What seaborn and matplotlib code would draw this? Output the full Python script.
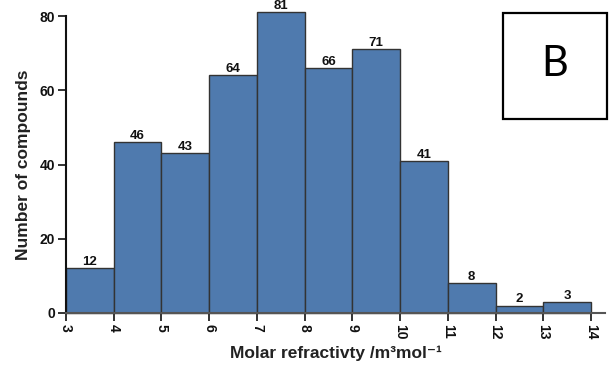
import numpy as np
import pandas as pd
import matplotlib
matplotlib.use("Agg")
import matplotlib.pyplot as plt
from matplotlib.patches import Rectangle
import seaborn as sns

# Histogram of molar refractivity (bins of width 1 from 3 to 14)
bin_edges = [3, 4, 5, 6, 7, 8, 9, 10, 11, 12, 13, 14]
counts = [12, 46, 43, 64, 81, 66, 71, 41, 8, 2, 3]
y_ticks = [0, 20, 40, 60, 80]
panel_label = "B"

centers = [(a + b) / 2 for a, b in zip(bin_edges[:-1], bin_edges[1:])]
df = pd.DataFrame({"mr": centers, "n": counts})

sns.set_style("ticks")
plt.rcParams["font.family"] = ["Liberation Sans", "DejaVu Sans"]

fig = plt.figure(figsize=(6.10, 3.71), dpi=100)
ax = fig.add_axes([66 / 610, 58 / 371, (605 - 66) / 610, (313 - 16) / 371])

sns.histplot(data=df, x="mr", weights="n", bins=bin_edges, ax=ax,
             color="#4f7aae", alpha=1.0, edgecolor="#333333", linewidth=1.0)

# the tallest bar rises past the top of the axis, so don't clip
for p in ax.patches:
    p.set_clip_on(False)

for cont in ax.containers:
    texts = ax.bar_label(cont, labels=[str(c) for c in counts], padding=0.2,
                         fontsize=9.5, fontweight="bold", color="#111111")
    for t in texts:
        t.set_clip_on(False)
        t.set_annotation_clip(False)

ax.set_xlim(3, 3 + (605 - 66) / (591 - 66) * 11)
ax.set_ylim(0, 80)
ax.set_xticks(bin_edges)
ax.set_xticklabels([str(e) for e in bin_edges], rotation=-90,
                   fontsize=10, fontweight="bold")
ax.set_yticks(y_ticks)
ax.set_yticklabels([str(t) for t in y_ticks], fontsize=10, fontweight="bold")
ax.tick_params(axis="both", direction="out", length=6, width=1.2, colors="#111111", pad=2)

ax.set_xlabel("Molar refractivty /m³mol⁻¹", fontsize=12.5,
              fontweight="bold", color="#222222", labelpad=4)
ax.set_ylabel("Number of compounds", fontsize=12.5, fontweight="bold",
              color="#222222", labelpad=6)

for side in ["top", "right"]:
    ax.spines[side].set_visible(False)
for side in ["left", "bottom"]:
    ax.spines[side].set_linewidth(1.5)
    ax.spines[side].set_color("#111111")
ax.spines["bottom"].set_color("#555555")

# Panel label box
fig.patches.append(Rectangle((503 / 610, (371 - 119) / 371), 104 / 610, 106 / 371,
                             transform=fig.transFigure, fill=False,
                             edgecolor="black", linewidth=1.6))
fig.text((503 + 52) / 610, (371 - 64) / 371, panel_label, ha="center", va="center",
         fontsize=30, family=["Lato", "DejaVu Sans"], color="black")

fig.savefig("out.png", dpi=100)
